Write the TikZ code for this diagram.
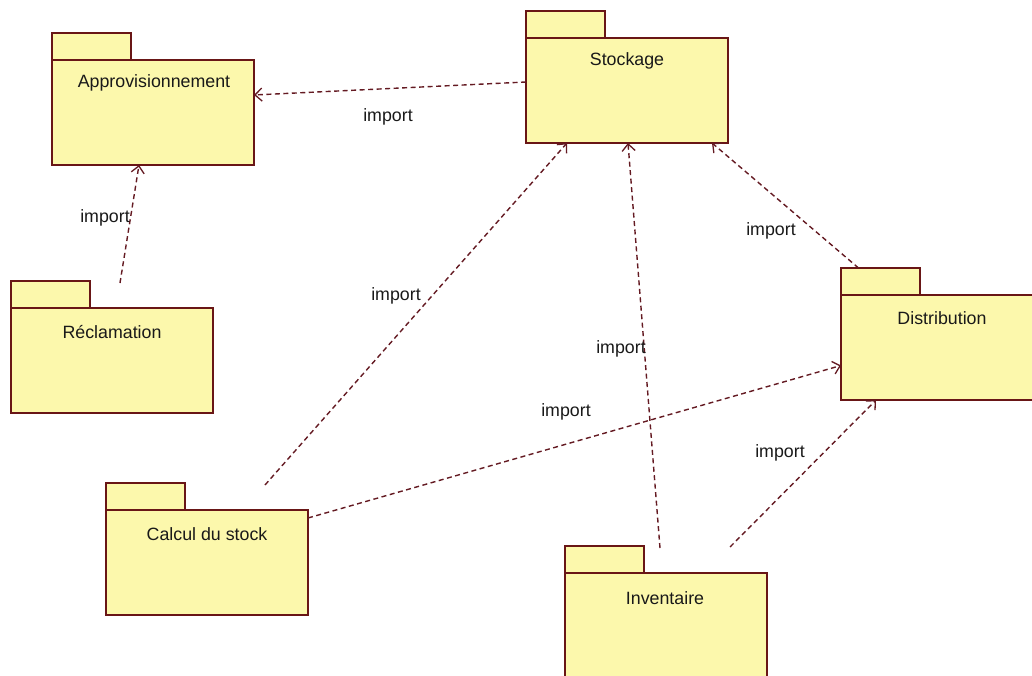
\documentclass[tikz,border=0pt]{standalone}
\usepackage{fontspec}
\setmainfont{Liberation Sans}
\usetikzlibrary{arrows.meta}
\definecolor{pkgfill}{RGB}{252,248,172}
\definecolor{pkgline}{RGB}{105,22,22}
\definecolor{arrowcol}{RGB}{100,26,34}
\definecolor{txtcol}{RGB}{25,25,25}
\newcommand\pkgfont{\fontsize{17.8}{20}\selectfont}
\tikzset{
  pkgbody/.style={draw=pkgline, fill=pkgfill, line width=1.6pt, rectangle,
    inner sep=0pt, outer sep=0pt, minimum width=202pt, minimum height=105pt,
    anchor=north west},
  pkgtab/.style={draw=pkgline, fill=pkgfill, line width=1.6pt, rectangle,
    inner sep=0pt, outer sep=0pt, minimum width=79pt, minimum height=27pt,
    anchor=south west},
  pkgname/.style={font=\pkgfont, text=txtcol, inner sep=0pt},
  imp/.style={draw=arrowcol, line width=1.4pt, dash pattern=on 5pt off 3.5pt,
    -{Straight Barb[length=7pt,width=13pt,line width=1.3pt]}},
  implabel/.style={font=\pkgfont, text=txtcol, inner sep=0pt}
}
\begin{document}
\begin{tikzpicture}[x=1pt,y=-1pt]
\useasboundingbox (0,0) rectangle (1032,676);

% packages: tab, body, name
\node[pkgtab]  (appro-tab) at (52,60) {};
\node[pkgbody] (appro)     at (52,60) {};
\node[pkgname] (appro-name) at (154,83) {Approvisionnement};

\node[pkgtab]  (stock-tab) at (526,38) {};
\node[pkgbody] (stock)     at (526,38) {};
\node[pkgname] (stock-name) at (627,61) {Stockage};

\node[pkgtab]  (recl-tab) at (11,308) {};
\node[pkgbody] (recl)     at (11,308) {};
\node[pkgname] (recl-name) at (112,332) {Réclamation};

\node[pkgtab]  (distr-tab) at (841,295) {};
\node[pkgbody] (distr)     at (841,295) {};
\node[pkgname] (distr-name) at (942,318) {Distribution};

\node[pkgtab]  (calc-tab) at (106,510) {};
\node[pkgbody] (calc)     at (106,510) {};
\node[pkgname] (calc-name) at (207,534) {Calcul du stock};

\node[pkgtab]  (inv-tab) at (565,573) {};
\node[pkgbody] (inv)     at (565,573) {};
\node[pkgname] (inv-name) at (665,598) {Inventaire};

% import dependencies
\draw[imp] ([yshift=8.5pt]stock.west) -- ([yshift=17.5pt]appro.east);
\node[implabel] (l1) at (388,117) {import};

\draw[imp] ([xshift=8pt,yshift=25pt]recl.north) -- ([xshift=-14pt]appro.south);
\node[implabel] (l2) at (105,218) {import};

\draw[imp] ([xshift=58pt,yshift=25pt]calc.north) -- ([xshift=-60pt]stock.south);
\node[implabel] (l3) at (396,296) {import};

\draw[imp] ([yshift=-8pt]calc.north east) -- ([yshift=-18pt]distr.west);
\node[implabel] (l4) at (566,412) {import};

\draw[imp] ([xshift=-6pt,yshift=25pt]inv.north) -- ([xshift=1pt]stock.south);
\node[implabel] (l5) at (621,349) {import};

\draw[imp] ([xshift=64pt,yshift=26pt]inv.north) -- ([xshift=35pt]distr.south west);
\node[implabel] (l6) at (780,453) {import};

\draw[imp] ([xshift=-22pt]distr-tab.north) -- ([xshift=-16pt]stock.south east);
\node[implabel] (l7) at (771,231) {import};
\end{tikzpicture}
\end{document}
